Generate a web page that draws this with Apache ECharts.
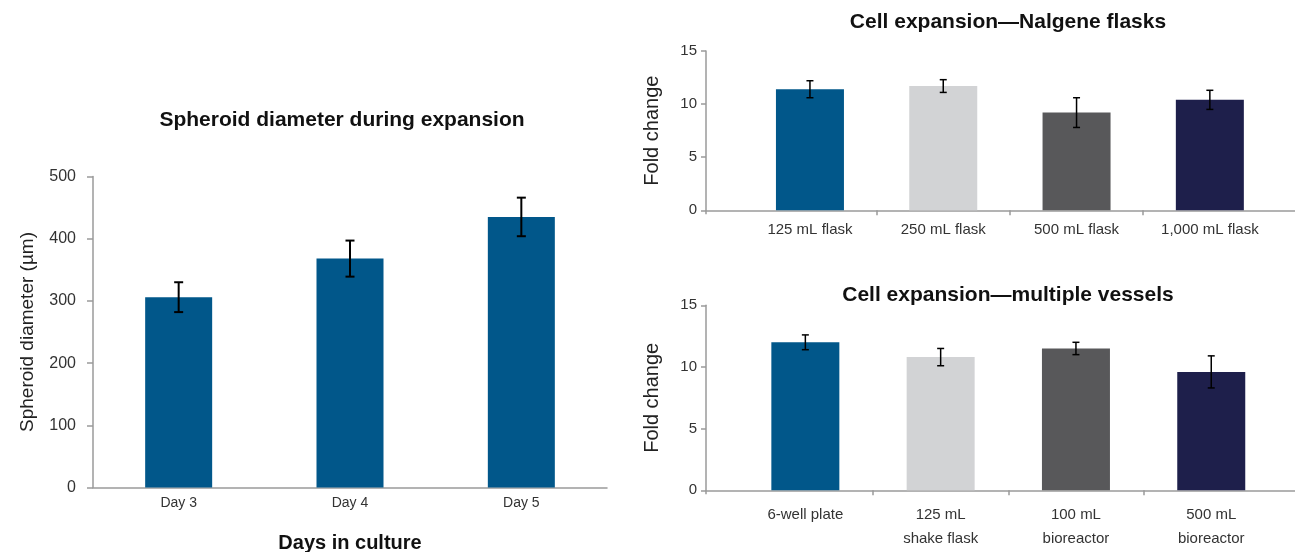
<!DOCTYPE html>
<html>
<head>
<meta charset="utf-8">
<title>Spheroid diameter and cell expansion</title>
<script src="https://cdn.jsdelivr.net/npm/echarts@6/dist/echarts.min.js"></script>
<style>
  html, body { margin: 0; padding: 0; background: #ffffff; }
  #chart { width: 1295px; height: 552px; }
</style>
</head>
<body>
<div id="chart"></div>
<script>
// Spheroid diameter (µm) by day, mean and error
const days = ['Day 3', 'Day 4', 'Day 5'];
const diameter = [306, 368, 435];
const diameterErr = [24, 29, 31];
const diameterTicks = { min: 0, max: 500, interval: 100 };

// Fold change in Nalgene flasks
const flaskLabels = ['125 mL flask', '250 mL flask', '500 mL flask', '1,000 mL flask'];
const flaskFold = [11.4, 11.7, 9.2, 10.4];
const flaskErr = [0.8, 0.6, 1.4, 0.9];

// Fold change across vessel types
const vesselLabels = ['6-well plate', '125 mL\nshake flask', '100 mL\nbioreactor', '500 mL\nbioreactor'];
const vesselFold = [12.0, 10.8, 11.5, 9.6];
const vesselErr = [0.6, 0.7, 0.5, 1.3];

const foldTicks = { min: 0, max: 15, interval: 5 };

// Styling
const FONT = "'Liberation Sans', Arial, Helvetica, sans-serif";
const AXIS_GREY = '#9a9a9a';
const TEXT = '#333333';
const BLUE = '#01578a';
const vesselPalette = ['#01578a', '#d2d3d5', '#58585a', '#1e1f4b'];

function errorBars(capHalf, lineW) {
  return function (params, api) {
    const i = api.value(0);
    const hi = api.coord([i, api.value(1)]);
    const lo = api.coord([i, api.value(2)]);
    const style = { stroke: '#000', lineWidth: lineW };
    return {
      type: 'group',
      children: [
        { type: 'line', shape: { x1: hi[0], y1: hi[1], x2: lo[0], y2: lo[1] }, style: style },
        { type: 'line', shape: { x1: hi[0] - capHalf, y1: hi[1], x2: hi[0] + capHalf, y2: hi[1] }, style: style },
        { type: 'line', shape: { x1: lo[0] - capHalf, y1: lo[1], x2: lo[0] + capHalf, y2: lo[1] }, style: style }
      ]
    };
  };
}

function errData(vals, errs) {
  return vals.map((v, i) => [i, v + errs[i], v - errs[i]]);
}

const axisLineStyle = { color: AXIS_GREY, width: 1.5 };
const hiddenY = (gi) => ({ type: 'value', gridIndex: gi, min: 0, max: 1, show: false, splitLine: { show: false } });
// grids keep the exact rectangles given here
const fixedGrid = (g) => Object.assign({ outerBoundsMode: 'none', containLabel: false }, g);

// Left panel
const grid = [fixedGrid({ left: 93, top: 176.5, width: 514, height: 311 })];
const xAxis = [{
  type: 'category', gridIndex: 0, data: days,
  axisLine: { lineStyle: axisLineStyle },
  axisTick: { length: 8, lineStyle: axisLineStyle },
  axisLabel: { color: TEXT, fontSize: 14, fontFamily: FONT, margin: 9, interval: 0 },
  name: 'Days in culture', nameLocation: 'middle', nameGap: 46,
  nameTextStyle: { fontSize: 20, fontWeight: 'bold', color: '#111', fontFamily: FONT }
}];
const yAxis = [{
  type: 'value', gridIndex: 0, min: diameterTicks.min, max: diameterTicks.max, interval: diameterTicks.interval,
  axisLine: { show: true, lineStyle: axisLineStyle },
  axisTick: { show: true, length: 6, lineStyle: axisLineStyle },
  splitLine: { show: false },
  axisLabel: { color: TEXT, fontSize: 16, fontFamily: FONT, margin: 17 },
  name: 'Spheroid diameter (µm)', nameLocation: 'middle', nameGap: 56, nameRotate: 90,
  nameTextStyle: { fontSize: 19, color: '#222', fontFamily: FONT }
}];
const series = [
  {
    type: 'bar', xAxisIndex: 0, yAxisIndex: 0, data: diameter, barWidth: 67,
    itemStyle: { color: BLUE }, z: 2
  },
  {
    type: 'custom', xAxisIndex: 0, yAxisIndex: 0, data: errData(diameter, diameterErr),
    renderItem: errorBars(4.5, 2), z: 3, silent: true
  }
];

// Right panels: frame (fold-change axis + baseline), bars, and a thin strip below the
// baseline that carries the category labels and the separators between vessels.
const right = [
  { top: 51, height: 159.3, barLeft: 743.3, band: 133.3, labels: flaskLabels, vals: flaskFold, errs: flaskErr, labelMargin: 3 },
  { top: 305.3, height: 185, barLeft: 737.7, band: 135.3, labels: vesselLabels, vals: vesselFold, errs: vesselErr, labelMargin: 8 }
];
const FRAME_LEFT = 706, FRAME_WIDTH = 589, STUB = 4;

right.forEach(function (p) {
  const base = p.top + p.height;

  // frame
  const fg = grid.length;
  grid.push(fixedGrid({ left: FRAME_LEFT, top: p.top, width: FRAME_WIDTH, height: p.height }));
  xAxis.push({
    type: 'value', gridIndex: fg, min: 0, max: 1,
    axisLine: { lineStyle: axisLineStyle },
    axisTick: { show: false }, axisLabel: { show: false }, splitLine: { show: false }
  });
  yAxis.push({
    type: 'value', gridIndex: fg, min: foldTicks.min, max: foldTicks.max, interval: foldTicks.interval,
    axisLine: { show: true, lineStyle: axisLineStyle },
    axisTick: { show: true, length: 5, lineStyle: axisLineStyle },
    splitLine: { show: false },
    axisLabel: { color: TEXT, fontSize: 15, fontFamily: FONT, margin: 9 },
    name: 'Fold change', nameLocation: 'middle', nameGap: 44, nameRotate: 90,
    nameTextStyle: { fontSize: 20, color: '#222', fontFamily: FONT }
  });

  // short continuation of the fold-change axis below the baseline
  const sg = grid.length;
  grid.push(fixedGrid({ left: FRAME_LEFT, top: base, width: FRAME_WIDTH, height: STUB }));
  xAxis.push({
    type: 'value', gridIndex: sg, min: 0, max: 1, interval: 1,
    axisLine: { show: false }, axisTick: { show: false }, axisLabel: { show: false },
    splitLine: { show: true, showMinLine: true, showMaxLine: false, lineStyle: axisLineStyle }
  });
  yAxis.push(hiddenY(sg));

  // bars
  const bg = grid.length;
  grid.push(fixedGrid({ left: p.barLeft, top: p.top, width: p.band * 4, height: p.height }));
  const bx = xAxis.length;
  xAxis.push({ type: 'category', gridIndex: bg, data: p.labels, show: false });
  const by = yAxis.length;
  yAxis.push({
    type: 'value', gridIndex: bg, min: foldTicks.min, max: foldTicks.max, interval: foldTicks.interval,
    show: false, splitLine: { show: false }
  });
  series.push({
    type: 'bar', xAxisIndex: bx, yAxisIndex: by, barWidth: 68, z: 2,
    data: p.vals.map((v, i) => ({ value: v, itemStyle: { color: vesselPalette[i] } }))
  });
  series.push({
    type: 'custom', xAxisIndex: bx, yAxisIndex: by, data: errData(p.vals, p.errs),
    renderItem: errorBars(3.5, 1.5), z: 3, silent: true
  });

  // category strip: labels and separators
  const cg = grid.length;
  grid.push(fixedGrid({ left: p.barLeft, top: base, width: p.band * 4, height: 5 }));
  xAxis.push({
    type: 'category', gridIndex: cg, data: p.labels,
    axisLine: { show: false }, axisTick: { show: false },
    splitLine: { show: true, showMinLine: false, showMaxLine: false, interval: 0, lineStyle: axisLineStyle },
    axisLabel: { color: TEXT, fontSize: 15, lineHeight: 24, fontFamily: FONT, margin: p.labelMargin, interval: 0 }
  });
  yAxis.push(hiddenY(cg));
});

const titleStyle = { fontSize: 21, fontWeight: 'bold', color: '#111', fontFamily: FONT };
const option = {
  animation: false,
  backgroundColor: '#ffffff',
  title: [
    { text: 'Spheroid diameter during expansion', left: 342, top: 110, textAlign: 'center', padding: 0, textStyle: titleStyle },
    { text: 'Cell expansion\u2014Nalgene flasks', left: 1008, top: 12, textAlign: 'center', padding: 0, textStyle: titleStyle },
    { text: 'Cell expansion\u2014multiple vessels', left: 1008, top: 285, textAlign: 'center', padding: 0, textStyle: titleStyle }
  ],
  grid: grid,
  xAxis: xAxis,
  yAxis: yAxis,
  series: series
};

const chart = echarts.init(document.getElementById('chart'), null, { renderer: 'canvas' });
chart.setOption(option);
</script>
</body>
</html>
